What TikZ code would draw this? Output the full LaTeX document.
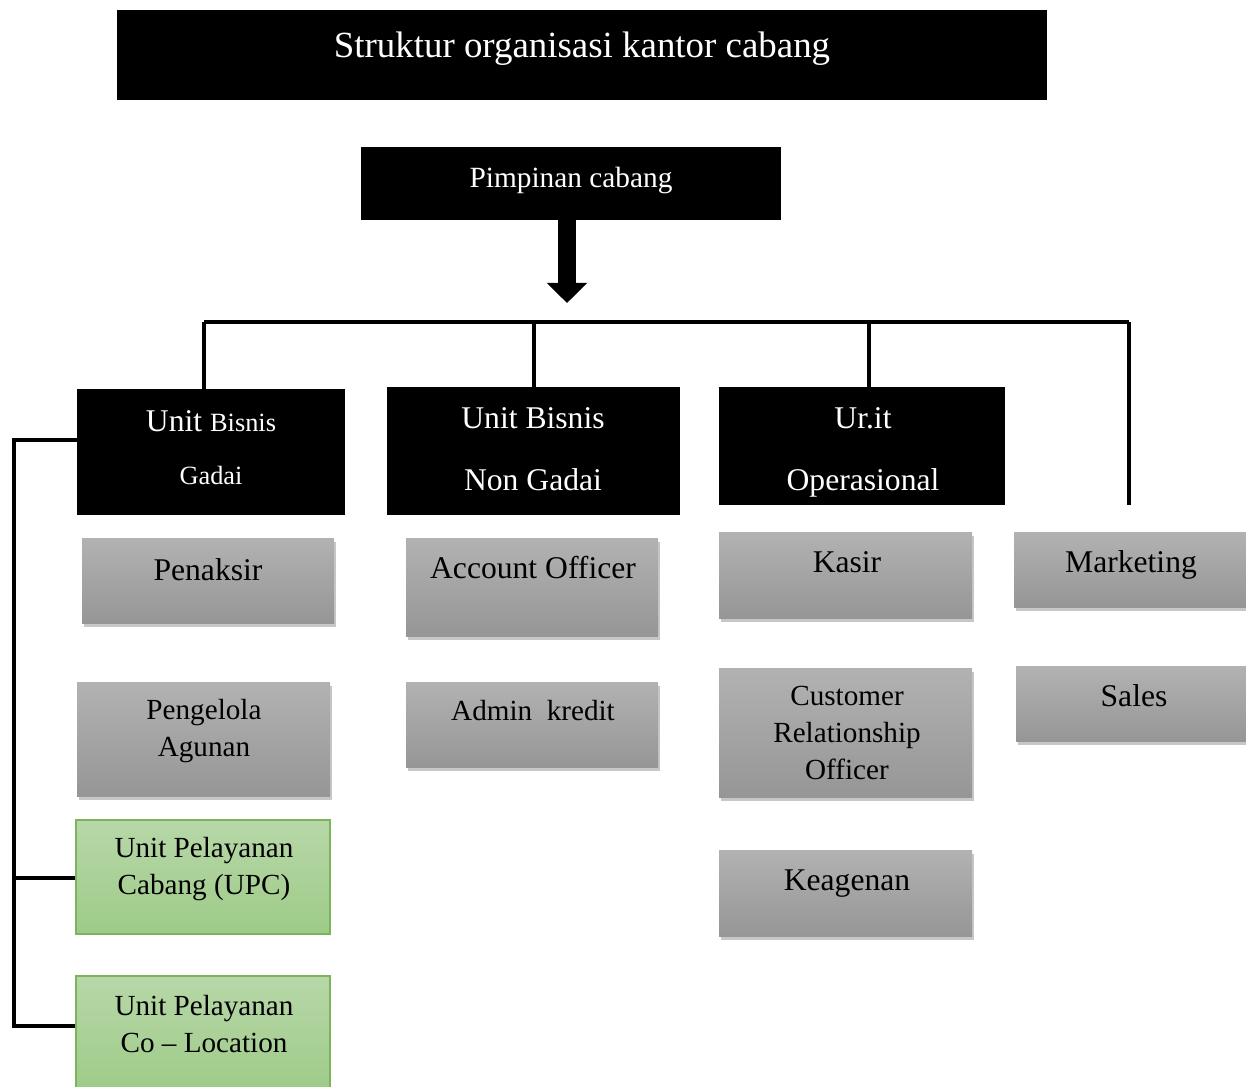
\documentclass[tikz,border=0pt]{standalone}
\usepackage{fontspec}
\setmainfont{Liberation Serif}
\usetikzlibrary{arrows.meta,fit,shadows}
\definecolor{gtop}{RGB}{178,178,178}
\definecolor{gbot}{RGB}{150,150,150}
\definecolor{grtop}{RGB}{183,215,168}
\definecolor{grbot}{RGB}{158,203,136}
\definecolor{grline}{RGB}{122,181,92}
\begin{document}
\begin{tikzpicture}[x=0.02cm,y=-0.02cm,
  hbox/.style={fill=black, inner sep=0pt},
  gbox/.style={inner sep=0pt, top color=gtop, bottom color=gbot,
    drop shadow={shadow xshift=1.0pt, shadow yshift=-2.0pt, fill=black, opacity=0.22}},
  grbox/.style={inner sep=0pt, draw=grline, line width=0.7pt, top color=grtop, bottom color=grbot},
  wt/.style={text=white, font=\fontsize{18}{21}\selectfont, inner sep=0pt},
  bt/.style={font=\fontsize{18}{21}\selectfont, align=center, inner sep=0pt},
  mt/.style={font=\fontsize{16.6}{21}\selectfont, align=center, inner sep=0pt},
  conn/.style={line width=2.4pt},
  bigarrow/.style={line width=10.8pt, -{Triangle[width=22.5pt,length=11.5pt]}}
]
\useasboundingbox (0,0) rectangle (1246,1086);

% header boxes
\node[hbox, fit={(117,10)(1047,100)}] (title) {};
\node[wt, font=\fontsize{21}{25}\selectfont] (titleT) at (582,49) {Struktur organisasi kantor cabang};
\node[hbox, fit={(361,147)(781,220)}] (pim) {};
\node[wt, font=\fontsize{16.7}{20}\selectfont] (pimT) at (571,180) {Pimpinan cabang};

\node[hbox, fit={(77,389)(345,515)}] (ubg) {};
\node[wt] (ubgT1) at (211,421) {Unit {\fontsize{15}{18}\selectfont Bisnis}};
\node[wt, font=\fontsize{15}{18}\selectfont] (ubgT2) at (211,475) {Gadai};
\node[hbox, fit={(387,387)(680,515)}] (ubn) {};
\node[wt] (ubnT1) at (533,418) {Unit Bisnis};
\node[wt] (ubnT2) at (533,480) {Non Gadai};
\node[hbox, fit={(719,387)(1005,505)}] (uo) {};
\node[wt] (uoT1) at (863,418) {Ur.it};
\node[wt] (uoT2) at (863,483) {Operasional};

% gray boxes
\node[gbox, fit={(82,538)(334,623)}] (pen) {};
\node[bt] (penT) at (208,570) {Penaksir};
\node[gbox, fit={(77,682)(330,796)}] (pa) {};
\node[mt] (paT) at (204,731) {Pengelola\\Agunan};
\node[gbox, fit={(406,538)(658,636)}] (ao) {};
\node[bt] (aoT) at (533,568) {Account Officer};
\node[gbox, fit={(406,682)(658,767)}] (ak) {};
\node[mt] (akT) at (533,711) {Admin\ \ kredit};
\node[gbox, fit={(719,532)(972,618)}] (ks) {};
\node[bt] (ksT) at (847,562) {Kasir};
\node[gbox, fit={(719,668)(972,797)}] (cro) {};
\node[mt] (croT) at (847,733) {Customer\\Relationship\\Officer};
\node[gbox, fit={(719,850)(972,936)}] (kg) {};
\node[bt] (kgT) at (847,884) {Keagenan};
\node[gbox, fit={(1014,532)(1246,607)}] (mk) {};
\node[bt] (mkT) at (1131,565) {Marketing};
\node[gbox, fit={(1016,666)(1246,741)}] (sl) {};
\node[bt] (slT) at (1134,696) {Sales};

% green boxes
\node[grbox, fit={(76,820)(330,934)}] (upc) {};
\node[mt] (upcT) at (204,869) {Unit Pelayanan\\Cabang (UPC)};
\node[grbox, fit={(76,976)(330,1092)}] (col) {};
\node[mt] (colT) at (204,1024) {Unit Pelayanan\\Co -- Location};

% arrow
\coordinate (tip) at (567,303);
\draw[bigarrow] (pim.south -| tip) -- (tip);

% distribution bar
\coordinate (bl) at (204,322);
\coordinate (bm1) at (534,322);
\coordinate (bm2) at (869,322);
\coordinate (br) at (1129,322);
\coordinate (rend) at (1129,505);
\draw[conn] (bl) -- (br);
\draw[conn] (bl) -- (bl |- ubg.north);
\draw[conn] (bm1) -- (bm1 |- ubn.north);
\draw[conn] (bm2) -- (bm2 |- uo.north);
\draw[conn] (br) -- (rend);

% left bracket
\coordinate (lt) at (14,440);
\coordinate (lb) at (14,1026);
\draw[conn] (ubg.west |- lt) -- (lt) -- (lb) -- (col.west |- lb);
\draw[conn] (lt |- 0,878) -- (upc.west |- 0,878);
\end{tikzpicture}
\end{document}
